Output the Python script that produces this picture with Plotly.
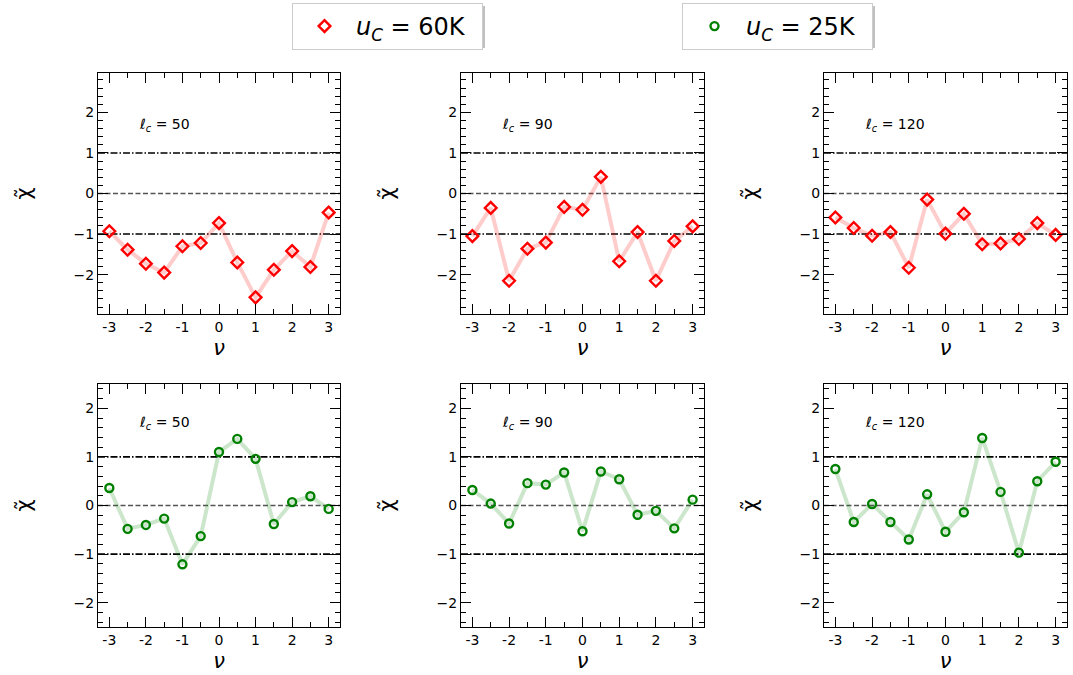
import plotly.graph_objects as go
from plotly.subplots import make_subplots

nu = [-3, -2.5, -2, -1.5, -1, -0.5, 0, 0.5, 1, 1.5, 2, 2.5, 3]
lc_values = [50, 90, 120]

chi_60K_lc50 = [-0.93, -1.385, -1.73, -1.95, -1.30, -1.22, -0.73, -1.70, -2.56, -1.88, -1.42, -1.81, -0.47]
chi_60K_lc90 = [-1.05, -0.355, -2.15, -1.36, -1.21, -0.33, -0.40, 0.41, -1.67, -0.95, -2.15, -1.17, -0.81]
chi_60K_lc120 = [-0.59, -0.85, -1.04, -0.95, -1.83, -0.15, -0.99, -0.50, -1.25, -1.23, -1.12, -0.73, -1.02]

chi_25K_lc50 = [0.36, -0.48, -0.40, -0.27, -1.21, -0.63, 1.10, 1.37, 0.96, -0.38, 0.07, 0.19, -0.07]
chi_25K_lc90 = [0.32, 0.04, -0.37, 0.46, 0.43, 0.68, -0.53, 0.70, 0.54, -0.19, -0.11, -0.47, 0.12]
chi_25K_lc120 = [0.75, -0.34, 0.03, -0.34, -0.70, 0.23, -0.54, -0.14, 1.39, 0.28, -0.97, 0.50, 0.90]

x_tickvals = [-3, -2, -1, 0, 1, 2, 3]
x_ticktext = ["-3", "-2", "-1", "0", "1", "2", "3"]
y_tickvals = [-2, -1, 0, 1, 2]
y_ticktext = ["\u22122", "\u22121", "0", "1", "2"]
ref_dashdot = [-1, 1]
ref_dashed = [0]

W, H = 1073, 675
ML, MR, MT, MB = 98, 6, 73, 48
PW, PH = W - ML - MR, H - MT - MB

def px_x(p):
    return (p - ML) / PW

def px_y(p):
    return (H - MB - p) / PH

col_px = [(98, 340), (461, 704), (824, 1067)]
row_px = [(73, 314), (384, 627)]

fig = make_subplots(rows=2, cols=3)

rows_data = [
    (chi_60K_lc50, chi_60K_lc90, chi_60K_lc120),
    (chi_25K_lc50, chi_25K_lc90, chi_25K_lc120),
]
styles = [
    dict(name="<i>u</i><sub><i>C</i></sub> = 60K", color="red", line="rgba(255,0,0,0.2)",
         symbol="diamond-open", size=9, legend="legend"),
    dict(name="<i>u</i><sub><i>C</i></sub> = 25K", color="green", line="rgba(0,128,0,0.2)",
         symbol="circle-open", size=8, legend="legend2"),
]
y_ranges = [[-2.97, 2.97], [-2.5, 2.5]]

tick_font = dict(family="DejaVu Sans", size=14, color="black")

for r in range(2):
    st = styles[r]
    for c in range(3):
        yvals = rows_data[r][c]
        idx = r * 3 + c
        sfx = "" if idx == 0 else str(idx + 1)
        fig.add_trace(go.Scatter(x=nu, y=yvals, mode="lines",
                                 line=dict(color=st["line"], width=4),
                                 showlegend=False, hoverinfo="skip"),
                      row=r + 1, col=c + 1)
        fig.add_trace(go.Scatter(x=nu, y=yvals, mode="markers", name=st["name"],
                                 marker=dict(symbol=st["symbol"], size=st["size"], color=st["color"],
                                             line=dict(color=st["color"], width=2.4)),
                                 showlegend=(c == 0), legend=st["legend"]),
                      row=r + 1, col=c + 1)
        for lv in ref_dashdot:
            fig.add_hline(y=lv, line=dict(color="black", width=1.6, dash="7px,2px,1.5px,2px"),
                          row=r + 1, col=c + 1, layer="below")
        for lv in ref_dashed:
            fig.add_hline(y=lv, line=dict(color="#555555", width=1.4, dash="5px,2.5px"),
                          row=r + 1, col=c + 1, layer="below")
        fig.add_annotation(x=-2.25, y=1.7, xref="x" + sfx, yref="y" + sfx,
                           text="<i>\u2113</i><sub><i>c</i></sub> = %d" % lc_values[c],
                           showarrow=False, xanchor="left", yanchor="middle",
                           font=dict(family="DejaVu Sans", size=14, color="black"))
        fig.update_xaxes(row=r + 1, col=c + 1,
                         domain=[px_x(col_px[c][0]), px_x(col_px[c][1])],
                         range=[-3.31, 3.31], tickvals=x_tickvals, ticktext=x_ticktext,
                         ticks="inside", ticklen=10, tickwidth=1.3, tickcolor="black",
                         minor=dict(dtick=0.5, tick0=0, ticks="inside", ticklen=5, tickwidth=1.2, tickcolor="black"),
                         showline=True, linecolor="black", linewidth=1.3, mirror="ticks",
                         showgrid=False, zeroline=False, tickfont=tick_font,
                         title=dict(text="<i>\u03bd</i>", font=dict(family="DejaVu Sans", size=21, color="black"),
                                    standoff=6))
        fig.update_yaxes(row=r + 1, col=c + 1,
                         domain=[px_y(row_px[r][1]), px_y(row_px[r][0])],
                         range=y_ranges[r], tickvals=y_tickvals, ticktext=y_ticktext,
                         ticks="inside", ticklen=10, tickwidth=1.3, tickcolor="black",
                         minor=dict(dtick=0.2, tick0=0, ticks="inside", ticklen=5, tickwidth=1.2, tickcolor="black"),
                         showline=True, linecolor="black", linewidth=1.3, mirror="ticks",
                         showgrid=False, zeroline=False, tickfont=tick_font,
                         title=dict(text="\u03c7\u0303", font=dict(family="DejaVu Sans", size=21, color="black"),
                                    standoff=36))

legend_boxes = [(292, 3, 482, 45), (682, 3, 872, 45)]
for (x0, y0, x1, y1) in legend_boxes:
    fig.add_shape(type="rect", xref="paper", yref="paper",
                  x0=px_x(x0 + 3), x1=px_x(x1 + 3), y0=px_y(y1 + 3), y1=px_y(y0 + 3),
                  fillcolor="rgba(150,150,150,0.6)", line=dict(width=0), layer="above")

leg_common = dict(xanchor="left", yanchor="top", bgcolor="white", bordercolor="#cccccc", borderwidth=1,
                  font=dict(family="DejaVu Sans", size=24, color="black"), itemwidth=53,
                  orientation="h", entrywidth=121, tracegroupgap=0)
fig.update_layout(
    width=W, height=H,
    margin=dict(l=ML, r=MR, t=MT, b=MB, autoexpand=False),
    paper_bgcolor="white", plot_bgcolor="white",
    showlegend=True,
    legend=dict(x=px_x(legend_boxes[0][0]), y=px_y(legend_boxes[0][1]), **leg_common),
    legend2=dict(x=px_x(legend_boxes[1][0]), y=px_y(legend_boxes[1][1]), **leg_common),
)

fig.write_html("out.html")
